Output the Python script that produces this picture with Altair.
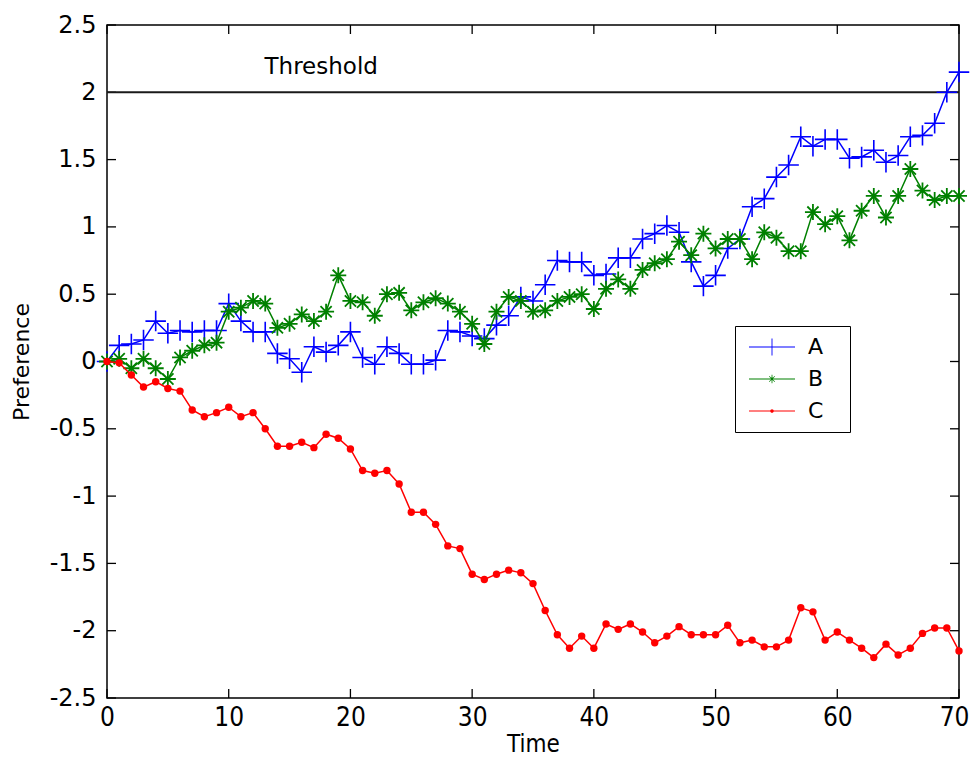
import altair as alt
import pandas as pd

# ---------------- data ----------------
time = list(range(71))
series_names = ["A", "B", "C"]
pref_a = [0, 0.12, 0.13, 0.16, 0.30, 0.21, 0.23, 0.22, 0.23, 0.23, 0.43,
          0.30, 0.22, 0.22, 0.06, 0.02, -0.08, 0.11, 0.07, 0.12, 0.22,
          0.03, -0.02, 0.11, 0.06, -0.02, -0.02, 0.01, 0.23, 0.22, 0.19,
          0.17, 0.27, 0.34, 0.48, 0.45, 0.57, 0.75, 0.74, 0.74, 0.64,
          0.65, 0.77, 0.77, 0.91, 0.95, 1.01, 0.96, 0.74, 0.56, 0.64,
          0.84, 0.91, 1.15, 1.21, 1.37, 1.46, 1.67, 1.60, 1.65, 1.65,
          1.51, 1.52, 1.57, 1.48, 1.53, 1.67, 1.68, 1.77, 2.00, 2.15]
pref_b = [0, 0.02, -0.05, 0.02, -0.05, -0.13, 0.03, 0.08, 0.12, 0.14, 0.37,
          0.40, 0.45, 0.43, 0.25, 0.28, 0.35, 0.30, 0.37, 0.64, 0.45,
          0.44, 0.34, 0.50, 0.51, 0.38, 0.44, 0.47, 0.43, 0.37, 0.28,
          0.13, 0.37, 0.48, 0.45, 0.37, 0.38, 0.45, 0.48, 0.50, 0.39,
          0.54, 0.61, 0.54, 0.68, 0.73, 0.76, 0.89, 0.79, 0.95, 0.84,
          0.91, 0.91, 0.76, 0.96, 0.92, 0.82, 0.82, 1.11, 1.02, 1.08,
          0.90, 1.12, 1.23, 1.07, 1.23, 1.43, 1.27, 1.20, 1.23, 1.23]
pref_c = [0, -0.01, -0.10, -0.19, -0.15, -0.20, -0.22, -0.36, -0.41, -0.38, -0.34,
          -0.41, -0.38, -0.50, -0.63, -0.63, -0.60, -0.64, -0.54, -0.57, -0.65,
          -0.81, -0.83, -0.81, -0.91, -1.12, -1.12, -1.21, -1.37, -1.39, -1.58,
          -1.62, -1.58, -1.55, -1.57, -1.65, -1.85, -2.03, -2.13, -2.04, -2.13,
          -1.95, -1.99, -1.95, -2.01, -2.09, -2.04, -1.97, -2.03, -2.03, -2.03,
          -1.96, -2.09, -2.07, -2.12, -2.12, -2.07, -1.83, -1.86, -2.07, -2.01,
          -2.07, -2.13, -2.20, -2.10, -2.18, -2.13, -2.02, -1.98, -1.98, -2.15]
threshold_value = 2.0
threshold_label = "Threshold"
y_ticks = [-2.5, -2, -1.5, -1, -0.5, 0, 0.5, 1, 1.5, 2, 2.5]
x_ticks = [0, 10, 20, 30, 40, 50, 60, 70]

# ---------------- style ----------------
W, H = 852, 673
blue, green, red = "#0000ff", "#008000", "#ff0000"
colors = [blue, green, red]
LABEL_FONT = "DejaVu Sans"
NARROW_FONT = "Liberation Sans Narrow, DejaVu Sans Condensed, Liberation Sans"

plus_path = "M-1,0L1,0M0,-1L0,1"
star_path = "M-1,0L1,0M0,-1L0,1M-0.7,-0.7L0.7,0.7M-0.7,0.7L0.7,-0.7"

# legend symbols (line sample + marker), filled shapes
leg_a = "M-2.3,-0.04h4.6v0.08h-4.6Z M-0.045,-0.85h0.09v1.7h-0.09Z"
leg_b = ("M-2.3,-0.04h4.6v0.08h-4.6Z M-0.04,-0.42h0.08v0.84h-0.08Z "
         "M-0.259,-0.301L0.301,0.259L0.259,0.301L-0.301,-0.259Z "
         "M-0.301,0.259L0.259,-0.301L0.301,-0.259L-0.259,0.301Z "
         "M-0.14,0A0.14,0.14 0 1,1 0.14,0A0.14,0.14 0 1,1 -0.14,0Z")
leg_c = ("M-2.3,-0.04h4.6v0.08h-4.6Z "
         "M-0.18,0A0.18,0.18 0 1,1 0.18,0A0.18,0.18 0 1,1 -0.18,0Z")

xs = alt.Scale(domain=[0, 70], nice=False, zero=False)
ys = alt.Scale(domain=[-2.5, 2.5], nice=False, zero=False)

x_axis = alt.Axis(values=x_ticks, format="d", title="Time", grid=False, ticks=False,
                  domain=False, labelFont=NARROW_FONT, labelFontSize=26,
                  labelColor="black", labelPadding=6, labelFlush=False,
                  labelOffset={"expr": "datum.value >= 70 ? -5 : 0"},
                  titleFont=NARROW_FONT, titleFontSize=24, titleFontWeight="normal",
                  titleColor="black", titlePadding=2)
y_axis = alt.Axis(values=y_ticks, labelExpr="'' + datum.value", title="Preference",
                  grid=False, ticks=False, domain=False, labelFont=LABEL_FONT,
                  labelFontSize=24, labelColor="black", labelPadding=11,
                  labelFlush=False,
                  titleFont=LABEL_FONT, titleFontSize=22, titleFontWeight="normal",
                  titleColor="black", titlePadding=16)

def xenc(field="time"):
    return alt.X(f"{field}:Q", scale=xs, axis=x_axis)

def yenc(field="pref"):
    return alt.Y(f"{field}:Q", scale=ys, axis=y_axis)

layers = []

# tick marks (inward, MATLAB style)
ytick_df = pd.DataFrame({"v": y_ticks})
xtick_df = pd.DataFrame({"t": x_ticks})
layers.append(alt.Chart(ytick_df).mark_rule(color="black", strokeWidth=1.3).encode(
    y=yenc("v"), x=alt.value(0), x2=alt.value(9)))
layers.append(alt.Chart(ytick_df).mark_rule(color="black", strokeWidth=1.3).encode(
    y=yenc("v"), x=alt.value(W - 9), x2=alt.value(W)))
layers.append(alt.Chart(xtick_df).mark_rule(color="black", strokeWidth=1.3).encode(
    x=xenc("t"), y=alt.value(H), y2=alt.value(H - 9)))
layers.append(alt.Chart(xtick_df).mark_rule(color="black", strokeWidth=1.3).encode(
    x=xenc("t"), y=alt.value(0), y2=alt.value(9)))

# threshold
thr_df = pd.DataFrame({"v": [threshold_value]})
layers.append(alt.Chart(thr_df).mark_rule(color="#1a1a1a", strokeWidth=2).encode(
    y=yenc("v")))
txt_df = pd.DataFrame({"t": [17.6], "v": [2.19], "label": [threshold_label]})
layers.append(alt.Chart(txt_df).mark_text(font=LABEL_FONT, fontSize=23, color="black",
                                          align="center", baseline="middle").encode(
    x=xenc("t"), y=yenc("v"), text="label:N"))

# series
for name, vals, col in zip(series_names, [pref_a, pref_b, pref_c], colors):
    df = pd.DataFrame({"time": time, "pref": vals, "series": name})
    layers.append(alt.Chart(df).mark_line(color=col, strokeWidth=1.5).encode(
        x=xenc(), y=yenc()))
    if name == "A":
        pt = alt.Chart(df).mark_point(shape=plus_path, size=420, color=col, filled=False,
                                      strokeWidth=1.6, opacity=1)
    elif name == "B":
        pt = alt.Chart(df).mark_point(shape=star_path, size=256, color=col, filled=False,
                                      strokeWidth=1.8, opacity=1)
    else:
        pt = alt.Chart(df).mark_point(shape="circle", size=55, color=col, filled=True,
                                      opacity=1)
    layers.append(pt.encode(x=xenc(), y=yenc()))

# legend carrier (points outside the domain, clipped)
leg_df = pd.DataFrame({"series": series_names, "time": [-20] * 3, "pref": [0] * 3})
legend = alt.Legend(title=None, orient="none", legendX=628, legendY=301,
                    strokeColor="black", fillColor="white", padding=10,
                    symbolOffset=16, labelOffset=25, rowPadding=10,
                    labelFont=LABEL_FONT, labelFontSize=22, labelColor="black",
                    symbolSize=400, symbolStrokeWidth=0, symbolOpacity=1,
                    labelExpr="datum.label + '\u2800'")
layers.append(alt.Chart(leg_df).mark_point(filled=True, size=400, clip=True, opacity=1).encode(
    x=xenc(), y=yenc(),
    color=alt.Color("series:N", scale=alt.Scale(domain=series_names, range=colors),
                    legend=legend),
    shape=alt.Shape("series:N", scale=alt.Scale(domain=series_names,
                                                range=[leg_a, leg_b, leg_c]),
                    legend=legend)))

chart = alt.layer(*layers).properties(
    width=W, height=H,
    autosize=alt.AutoSizeParams(type="none"),
    padding={"left": 99, "top": 17, "right": 11, "bottom": 60},
    background="white",
).configure_view(stroke="black", strokeWidth=1.5)

chart.save("out.html", embed_options={"renderer": "svg", "actions": False})
